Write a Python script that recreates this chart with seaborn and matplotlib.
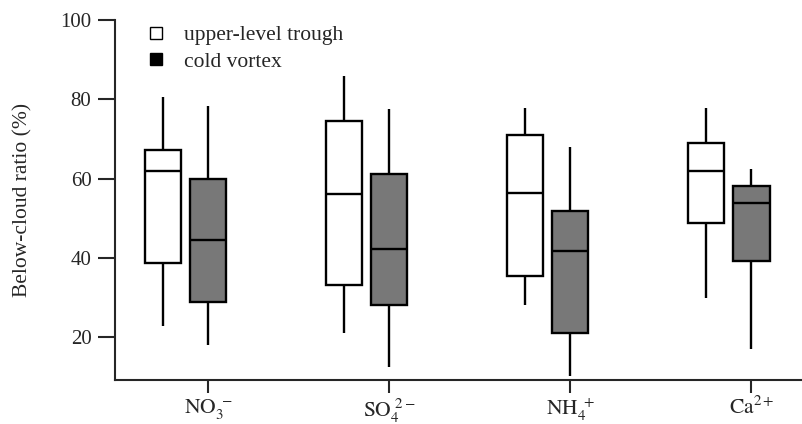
import pandas as pd
import matplotlib
matplotlib.use('Agg')
import matplotlib.pyplot as plt
from matplotlib.lines import Line2D
import seaborn as sns

# five-number summaries (min, Q1, median, Q3, max)
ions = ['NO3', 'SO4', 'NH4', 'Ca']
ion_labels = [r'$\mathrm{NO}_3^{\ -}$', r'$\mathrm{SO}_4^{\ 2-}$',
              r'$\mathrm{NH}_4^{\ +}$', r'$\mathrm{Ca}^{2+}$']
groups = ['upper-level trough', 'cold vortex']

trough_no3 = [22.8, 38.6, 62.0, 67.3, 80.5]
trough_so4 = [21.1, 33.0, 56.2, 74.4, 85.9]
trough_nh4 = [28.0, 35.3, 56.3, 71.1, 77.7]
trough_ca = [29.9, 48.7, 61.9, 68.9, 77.9]

vortex_no3 = [18.0, 28.9, 44.5, 59.9, 78.3]
vortex_so4 = [12.5, 28.1, 42.1, 61.1, 77.5]
vortex_nh4 = [10.1, 21.1, 41.8, 51.7, 67.9]
vortex_ca = [17.0, 39.2, 53.8, 58.0, 62.3]

trough = [trough_no3, trough_so4, trough_nh4, trough_ca]
vortex = [vortex_no3, vortex_so4, vortex_nh4, vortex_ca]

rows = []
for ion, t, v in zip(ions, trough, vortex):
    rows += [(ion, groups[0], x) for x in t]
    rows += [(ion, groups[1], x) for x in v]
df = pd.DataFrame(rows, columns=['ion', 'type', 'ratio'])

sns.set_style('ticks')
plt.rcParams['font.family'] = ['Liberation Serif', 'DejaVu Serif']
plt.rcParams['mathtext.fontset'] = 'stix'
plt.rcParams['font.size'] = 15

fig = plt.figure(figsize=(8.03, 4.24), dpi=100)
ax = fig.add_axes([115 / 803, 44 / 424, 688 / 803, 360 / 424])

sns.boxplot(data=df, x='ion', y='ratio', hue='type', order=ions, hue_order=groups,
            whis=(0, 100), width=0.5, gap=0.2, showcaps=False,
            palette={groups[0]: 'white', groups[1]: '#787878'},
            linecolor='black', linewidth=1.7, legend=False, ax=ax)

ax.set_xlim(-0.39, 3.41)
ax.set_ylim(9.15, 100)
ax.set_yticks([20, 40, 60, 80, 100])
ax.set_xticks([i + 0.125 for i in range(len(ions))])
ax.set_xticklabels(ion_labels, fontsize=15.5)
ax.set_xlabel('')
ax.set_ylabel('Below-cloud ratio (%)', fontsize=15.5, labelpad=20)

sns.despine(ax=ax)
for s in ['left', 'bottom']:
    ax.spines[s].set_linewidth(1.5)
ax.tick_params(axis='y', length=12, width=1.5, pad=5, labelsize=15)
ax.tick_params(axis='x', length=9, width=1.5, pad=3)

handles = [Line2D([], [], marker='s', linestyle='none', markersize=9,
                  markerfacecolor='white', markeredgecolor='black', markeredgewidth=1),
           Line2D([], [], marker='s', linestyle='none', markersize=9,
                  markerfacecolor='black', markeredgecolor='black')]
ax.legend(handles, groups, loc='upper left', bbox_to_anchor=(0.0, 1.04),
          frameon=False, fontsize=15.5, handletextpad=0.3, labelspacing=0.3)

fig.savefig('out.png', dpi=100)
